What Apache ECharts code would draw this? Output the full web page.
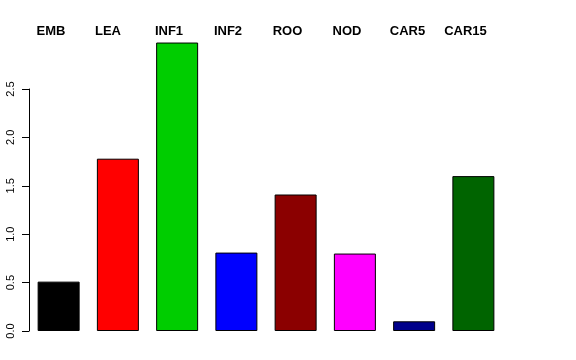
<!DOCTYPE html>
<html>
<head>
<meta charset="utf-8">
<script src="https://cdn.jsdelivr.net/npm/echarts@6/dist/echarts.min.js"></script>
<style>html,body{margin:0;padding:0;background:#fff;}#c{width:576px;height:360px;}</style>
</head>
<body>
<div id="c"></div>
<script>
var categories = ['EMB', 'LEA', 'INF1', 'INF2', 'ROO', 'NOD', 'CAR5', 'CAR15'];
var values = [0.51, 1.78, 2.98, 0.81, 1.41, 0.80, 0.10, 1.60];
var barColors = ['#000000', '#FF0000', '#00CD00', '#0000FF', '#8B0000', '#FF00FF', '#00008B', '#006400'];
var yTicks = [0, 0.5, 1.0, 1.5, 2.0, 2.5];

// horizontal centres of the top labels (layout only)
var labelCenters = [51, 108, 169, 228, 287.5, 347, 407.5, 465.5];

var chart = echarts.init(document.getElementById('c'), null, {renderer: 'canvas'});
var option = {
  animation: false,
  backgroundColor: '#ffffff',
  grid: {left: 29, top: 89, width: 474, height: 242, containLabel: false},
  xAxis: {
    type: 'category',
    data: categories,
    axisLine: {show: false},
    axisTick: {show: false},
    axisLabel: {show: false},
    splitLine: {show: false}
  },
  yAxis: {
    type: 'value',
    min: yTicks[0],
    max: yTicks[yTicks.length - 1],
    interval: 0.5,
    axisLine: {show: true, lineStyle: {color: '#000', width: 1}},
    axisTick: {show: true, length: 7, lineStyle: {color: '#000', width: 1}},
    axisLabel: {
      rotate: 90, margin: 13, color: '#000', fontSize: 11,
      fontFamily: 'Liberation Sans, Arial, sans-serif',
      formatter: function (v) { return v.toFixed(1); }
    },
    splitLine: {show: false}
  },
  series: [{
    type: 'bar',
    data: values.map(function (v, i) {
      return {value: v, itemStyle: {color: barColors[i]}};
    }),
    barWidth: 42,
    clip: false,
    itemStyle: {borderColor: '#000', borderWidth: 1}
  }],
  graphic: categories.map(function (c, i) {
    return {
      type: 'text', x: labelCenters[i], y: 31,
      style: {
        text: c, fill: '#000', align: 'center', verticalAlign: 'middle',
        textAlign: 'center', textVerticalAlign: 'middle',
        font: 'bold 13px "Liberation Sans", Arial, sans-serif'
      }
    };
  })
};
chart.setOption(option);
</script>
</body>
</html>
